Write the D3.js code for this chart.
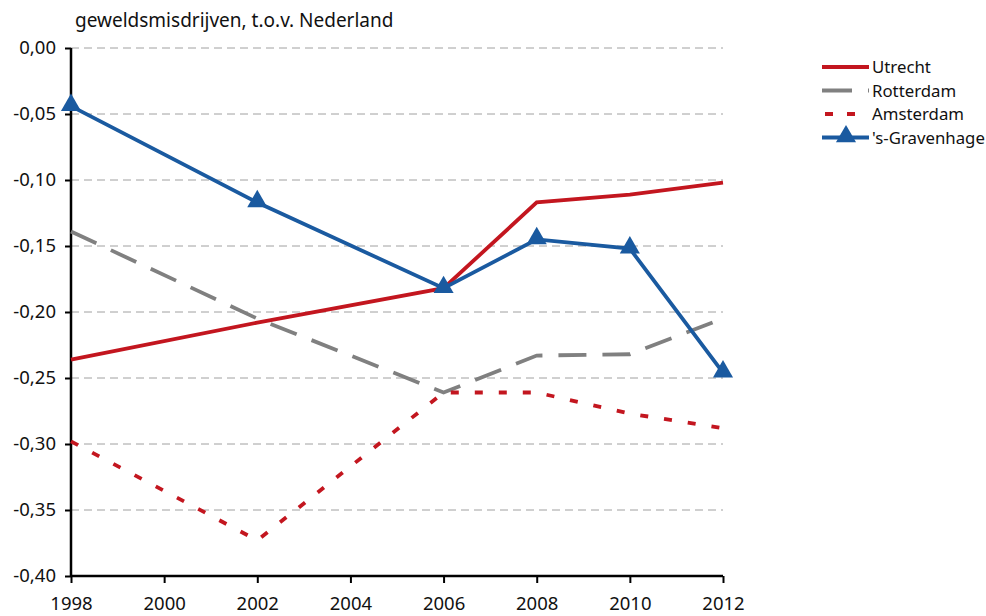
<!DOCTYPE html>
<html><head><meta charset="utf-8">
<script src="https://cdn.jsdelivr.net/npm/d3@7"></script>
<style>body{margin:0;background:#fff}svg{font-family:"Noto Sans",sans-serif}</style>
</head><body><svg id="c" width="986" height="616"></svg>
<script>
const years = [1998, 2002, 2006, 2008, 2010, 2012];
const utrecht = [-0.236, -0.208, -0.182, -0.117, -0.111, -0.102];
const rotterdam = [-0.139, -0.205, -0.261, -0.233, -0.232, -0.205];
const amsterdam = [-0.298, -0.373, -0.261, -0.261, -0.277, -0.288];
const gravenhage = [-0.044, -0.117, -0.182, -0.145, -0.152, -0.246];
const xTicks = [1998, 2000, 2002, 2004, 2006, 2008, 2010, 2012];
const yTicks = [0, -0.05, -0.1, -0.15, -0.2, -0.25, -0.3, -0.35, -0.4];
const seriesNames = ["Utrecht", "Rotterdam", "Amsterdam", "'s-Gravenhage"];

const svg = d3.select("#c");
const x = d3.scaleLinear().domain([1998, 2012]).range([71, 723]);
const y = d3.scaleLinear().domain([-0.4, 0]).range([576, 48]);
const fmt = v => d3.format(".2f")(v).replace(".", ",").replace("−", "-");

// grid
svg.append("g").selectAll("line").data(yTicks.filter(v => v !== -0.4)).join("line")
  .attr("x1", 71).attr("x2", 723).attr("y1", d => y(d)).attr("y2", d => y(d))
  .attr("stroke", "#a0a0a0").attr("stroke-width", 1).attr("stroke-dasharray", "8,5");

// axes
const ya = svg.append("g").attr("transform", "translate(71,0)")
  .call(d3.axisLeft(y).tickValues(yTicks).tickFormat(fmt).tickSize(6).tickPadding(9));
const xa = svg.append("g").attr("transform", "translate(0,576)")
  .call(d3.axisBottom(x).tickValues(xTicks).tickFormat(d3.format("d")).tickSize(7).tickPadding(14));
[ya, xa].forEach(a => {
  a.select(".domain").attr("stroke", "#000").attr("stroke-width", 2.5);
  a.selectAll(".tick line").attr("stroke", "#000").attr("stroke-width", 2);
  a.selectAll("text").attr("font-size", 18.5).attr("fill", "#111").attr("font-family", "Noto Sans");
});
xa.select(".domain").attr("d", "M71,0H723");
ya.select(".domain").attr("d", "M0,48V576");

svg.append("text").attr("x", 75).attr("y", 27).attr("font-size", 19).attr("fill", "#111")
  .text("geweldsmisdrijven, t.o.v. Nederland");

const line = d3.line().x((d, i) => x(years[i])).y(d => y(d));
const styles = [
  {data: utrecht, color: "#c3161f", w: 3.8, dash: null},
  {data: rotterdam, color: "#808080", w: 3.8, dash: "28,16"},
  {data: amsterdam, color: "#c3161f", w: 3.8, dash: "8,16"},
  {data: gravenhage, color: "#1a5aa0", w: 3.8, dash: null}
];
styles.forEach(s => {
  svg.append("path").datum(s.data).attr("d", line).attr("fill", "none")
    .attr("stroke", s.color).attr("stroke-width", s.w)
    .attr("stroke-dasharray", s.dash);
});
const tri = d3.symbol().type(d3.symbolTriangle).size(175);
svg.append("g").selectAll("path").data(gravenhage).join("path")
  .attr("d", tri).attr("fill", "#1a5aa0")
  .attr("transform", (d, i) => `translate(${x(years[i])},${y(d) - 1})`);

// legend
const lg = svg.append("g");
styles.forEach((s, i) => {
  const yy = 67 + i * 23.5;
  lg.append("line").attr("x1", i === 2 ? 825 : 822).attr("x2", 869).attr("y1", yy).attr("y2", yy)
    .attr("stroke", s.color).attr("stroke-width", 3.8)
    .attr("stroke-dasharray", i === 1 ? "30,16" : i === 2 ? "8,14" : null);
  if (i === 3) lg.append("path").attr("d", tri).attr("fill", s.color)
    .attr("transform", `translate(846,${yy - 1})`);
  lg.append("text").attr("x", 872).attr("y", yy + 6).attr("font-size", 16.8).attr("fill", "#111")
    .text(seriesNames[i]);
});
</script></body></html>
